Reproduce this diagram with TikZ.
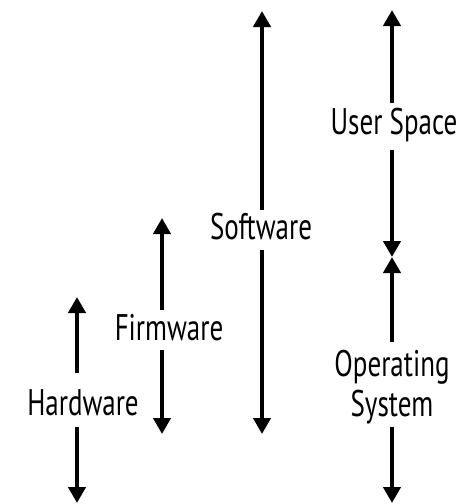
\documentclass[tikz,border=0pt]{standalone}
\usepackage{fontspec}
\setmainfont{PT Sans}[FakeStretch=0.73]
\usetikzlibrary{arrows.meta}
\tikzset{
  layer/.style={line width=4pt, -{Triangle[width=17pt,length=16pt]}},
  lbl/.style={font=\fontsize{37}{40}\selectfont, inner sep=0pt, align=center}
}
\begin{document}
\begin{tikzpicture}[x=1pt, y=-1pt]
\useasboundingbox (0,0) rectangle (472,504);
% Hardware
\node[lbl] (hw) at (83,403) {Hardware};
\coordinate (hw-up) at (77,373);
\coordinate (hw-top) at (77,297);
\coordinate (hw-dn) at (77,427);
\coordinate (hw-bot) at (77,503);
\draw[layer] (hw-up) -- (hw-top);
\draw[layer] (hw-dn) -- (hw-bot);
% Firmware
\node[lbl] (fw) at (169,328) {Firmware};
\coordinate (fw-up) at (162,310);
\coordinate (fw-top) at (162,218);
\coordinate (fw-dn) at (162,350);
\coordinate (fw-bot) at (162,434);
\draw[layer] (fw-up) -- (fw-top);
\draw[layer] (fw-dn) -- (fw-bot);
% Software
\node[lbl] (sw) at (261,227) {Software};
\coordinate (sw-up) at (262,210);
\coordinate (sw-top) at (262,11);
\coordinate (sw-dn) at (262,250);
\coordinate (sw-bot) at (262,434);
\draw[layer] (sw-up) -- (sw-top);
\draw[layer] (sw-dn) -- (sw-bot);
% User Space
\node[lbl] (us) at (394,125) {User Space};
\coordinate (us-up) at (392,103);
\coordinate (us-top) at (392,10);
\coordinate (us-dn) at (392,150);
\coordinate (split) at (392,257);
\draw[layer] (us-up) -- (us-top);
\draw[layer] (us-dn) -- (split);
% Operating System
\node[lbl] (os) at (392,387) {Operating\\System};
\coordinate (os-up) at (392,342);
\coordinate (os-dn) at (392,427);
\coordinate (os-bot) at (392,503);
\draw[layer] (os-up) -- (split);
\draw[layer] (os-dn) -- (os-bot);
\end{tikzpicture}
\end{document}
